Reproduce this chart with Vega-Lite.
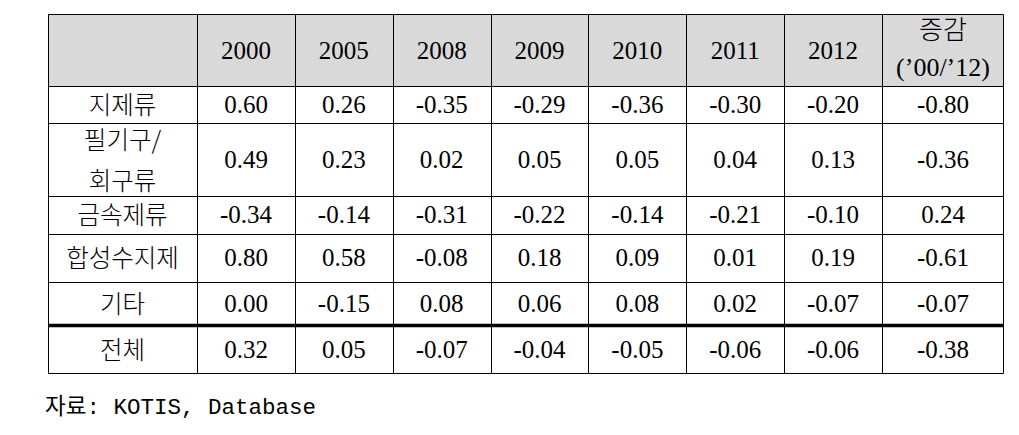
{
  "$schema": "https://vega.github.io/schema/vega-lite/v6.json",
  "width": 955,
  "height": 359,
  "autosize": "none",
  "padding": {"left": 48, "top": 14, "right": 16, "bottom": 62},
  "config": {
    "view": {"stroke": null},
    "locale": {"number": {"decimal": ".", "thousands": ",", "grouping": [3], "currency": ["", ""], "minus": "-"}}
  },
  "title": {
    "text": "자료: KOTIS, Database",
    "orient": "bottom",
    "anchor": "start",
    "frame": "group",
    "font": "Liberation Mono, Noto Sans CJK KR",
    "fontSize": 22.5,
    "fontWeight": "normal",
    "color": "#000000",
    "offset": 23,
    "dx": -3
  },
  "layer": [
    {
      "data": {"values": [{"part": "header"}]},
      "mark": {"type": "rect", "color": "#d9d9d9"},
      "encoding": {
        "x": {
          "datum": 0, "type": "quantitative",
          "scale": {"domain": [0, 1, 8, 9], "range": [0, 149, 834, 955], "nice": false, "zero": false},
          "axis": {"grid": true, "values": [0, 1, 2, 3, 4, 5, 6, 7, 8, 9], "labels": false, "ticks": false, "domain": false, "title": null, "gridColor": "#000000", "gridWidth": 1, "gridOpacity": 1, "zindex": 1}
        },
        "x2": {"datum": 9},
        "y": {
          "datum": 0, "type": "quantitative",
          "scale": {"domain": [0, 1, 2, 3, 4, 5, 6, 7], "range": [0, 72, 109, 182, 220, 268, 311, 359], "nice": false, "zero": false},
          "axis": {"grid": true, "values": [0, 1, 2, 3, 4, 5, 6, 7], "labels": false, "ticks": false, "domain": false, "title": null, "gridColor": "#000000", "gridOpacity": 1, "gridWidth": {"condition": {"test": "datum.value === 6", "value": 3.5}, "value": 1}, "zindex": 1}
        },
        "y2": {"datum": 1}
      }
    },
    {
      "data": {"values": [
        {"ri": 0, "ci": 1, "label": "2000"},
        {"ri": 0, "ci": 2, "label": "2005"},
        {"ri": 0, "ci": 3, "label": "2008"},
        {"ri": 0, "ci": 4, "label": "2009"},
        {"ri": 0, "ci": 5, "label": "2010"},
        {"ri": 0, "ci": 6, "label": "2011"},
        {"ri": 0, "ci": 7, "label": "2012"}
      ]},
      "mark": {"type": "text", "font": "Liberation Serif", "fontSize": 25, "baseline": "middle", "align": "center", "color": "#000000"},
      "encoding": {
        "x": {"field": "ci", "type": "quantitative", "scale": {"domain": [0, 1, 7, 8], "range": [74.5, 198, 785, 895], "nice": false, "zero": false}, "axis": null},
        "y": {"field": "ri", "type": "quantitative", "scale": {"domain": [0, 1, 2, 3, 4, 5, 6], "range": [37, 91, 146, 201, 244, 290, 336], "nice": false, "zero": false}, "axis": null},
        "text": {"field": "label"}
      }
    },
    {
      "data": {"values": [
        {"ri": 1, "ci": 0, "label": "지제류"},
        {"ri": 3, "ci": 0, "label": "금속제류"},
        {"ri": 4, "ci": 0, "label": "합성수지제"},
        {"ri": 5, "ci": 0, "label": "기타"},
        {"ri": 6, "ci": 0, "label": "전체"}
      ]},
      "mark": {"type": "text", "font": "Noto Sans CJK KR", "fontSize": 24.5, "fontWeight": 300, "letterSpacing": 3, "dy": 2, "baseline": "middle", "align": "center", "color": "#000000"},
      "encoding": {
        "x": {"field": "ci", "type": "quantitative", "scale": {"domain": [0, 1, 7, 8], "range": [74.5, 198, 785, 895], "nice": false, "zero": false}, "axis": null},
        "y": {"field": "ri", "type": "quantitative", "scale": {"domain": [0, 1, 2, 3, 4, 5, 6], "range": [37, 91, 146, 201, 244, 290, 336], "nice": false, "zero": false}, "axis": null},
        "text": {"field": "label"}
      }
    },
    {
      "data": {"values": [
        {"ri": 2, "ci": 0, "label": "필기구/\n회구류"}
      ]},
      "mark": {"type": "text", "font": "Noto Sans CJK KR", "fontSize": 24.5, "fontWeight": 300, "letterSpacing": 3, "lineBreak": "\n", "lineHeight": 41, "dy": -18, "baseline": "middle", "align": "center", "color": "#000000"},
      "encoding": {
        "x": {"field": "ci", "type": "quantitative", "scale": {"domain": [0, 1, 7, 8], "range": [74.5, 198, 785, 895], "nice": false, "zero": false}, "axis": null},
        "y": {"field": "ri", "type": "quantitative", "scale": {"domain": [0, 1, 2, 3, 4, 5, 6], "range": [37, 91, 146, 201, 244, 290, 336], "nice": false, "zero": false}, "axis": null},
        "text": {"field": "label"}
      }
    },
    {
      "data": {"values": [
        {"ri": 0, "ci": 8, "label": "증감\n(’00/’12)"}
      ]},
      "mark": {"type": "text", "font": "Liberation Serif, Noto Sans CJK KR", "fontSize": 26, "fontWeight": 300, "lineBreak": "\n", "lineHeight": 37, "dy": -20, "baseline": "middle", "align": "center", "color": "#000000"},
      "encoding": {
        "x": {"field": "ci", "type": "quantitative", "scale": {"domain": [0, 1, 7, 8], "range": [74.5, 198, 785, 895], "nice": false, "zero": false}, "axis": null},
        "y": {"field": "ri", "type": "quantitative", "scale": {"domain": [0, 1, 2, 3, 4, 5, 6], "range": [37, 91, 146, 201, 244, 290, 336], "nice": false, "zero": false}, "axis": null},
        "text": {"field": "label"}
      }
    },
    {
      "data": {"values": [
        {"item": "지제류", "period": "2000", "ri": 1, "ci": 1, "value": 0.60},
        {"item": "지제류", "period": "2005", "ri": 1, "ci": 2, "value": 0.26},
        {"item": "지제류", "period": "2008", "ri": 1, "ci": 3, "value": -0.35},
        {"item": "지제류", "period": "2009", "ri": 1, "ci": 4, "value": -0.29},
        {"item": "지제류", "period": "2010", "ri": 1, "ci": 5, "value": -0.36},
        {"item": "지제류", "period": "2011", "ri": 1, "ci": 6, "value": -0.30},
        {"item": "지제류", "period": "2012", "ri": 1, "ci": 7, "value": -0.20},
        {"item": "지제류", "period": "증감", "ri": 1, "ci": 8, "value": -0.80},
        {"item": "필기구/회구류", "period": "2000", "ri": 2, "ci": 1, "value": 0.49},
        {"item": "필기구/회구류", "period": "2005", "ri": 2, "ci": 2, "value": 0.23},
        {"item": "필기구/회구류", "period": "2008", "ri": 2, "ci": 3, "value": 0.02},
        {"item": "필기구/회구류", "period": "2009", "ri": 2, "ci": 4, "value": 0.05},
        {"item": "필기구/회구류", "period": "2010", "ri": 2, "ci": 5, "value": 0.05},
        {"item": "필기구/회구류", "period": "2011", "ri": 2, "ci": 6, "value": 0.04},
        {"item": "필기구/회구류", "period": "2012", "ri": 2, "ci": 7, "value": 0.13},
        {"item": "필기구/회구류", "period": "증감", "ri": 2, "ci": 8, "value": -0.36},
        {"item": "금속제류", "period": "2000", "ri": 3, "ci": 1, "value": -0.34},
        {"item": "금속제류", "period": "2005", "ri": 3, "ci": 2, "value": -0.14},
        {"item": "금속제류", "period": "2008", "ri": 3, "ci": 3, "value": -0.31},
        {"item": "금속제류", "period": "2009", "ri": 3, "ci": 4, "value": -0.22},
        {"item": "금속제류", "period": "2010", "ri": 3, "ci": 5, "value": -0.14},
        {"item": "금속제류", "period": "2011", "ri": 3, "ci": 6, "value": -0.21},
        {"item": "금속제류", "period": "2012", "ri": 3, "ci": 7, "value": -0.10},
        {"item": "금속제류", "period": "증감", "ri": 3, "ci": 8, "value": 0.24},
        {"item": "합성수지제", "period": "2000", "ri": 4, "ci": 1, "value": 0.80},
        {"item": "합성수지제", "period": "2005", "ri": 4, "ci": 2, "value": 0.58},
        {"item": "합성수지제", "period": "2008", "ri": 4, "ci": 3, "value": -0.08},
        {"item": "합성수지제", "period": "2009", "ri": 4, "ci": 4, "value": 0.18},
        {"item": "합성수지제", "period": "2010", "ri": 4, "ci": 5, "value": 0.09},
        {"item": "합성수지제", "period": "2011", "ri": 4, "ci": 6, "value": 0.01},
        {"item": "합성수지제", "period": "2012", "ri": 4, "ci": 7, "value": 0.19},
        {"item": "합성수지제", "period": "증감", "ri": 4, "ci": 8, "value": -0.61},
        {"item": "기타", "period": "2000", "ri": 5, "ci": 1, "value": 0.00},
        {"item": "기타", "period": "2005", "ri": 5, "ci": 2, "value": -0.15},
        {"item": "기타", "period": "2008", "ri": 5, "ci": 3, "value": 0.08},
        {"item": "기타", "period": "2009", "ri": 5, "ci": 4, "value": 0.06},
        {"item": "기타", "period": "2010", "ri": 5, "ci": 5, "value": 0.08},
        {"item": "기타", "period": "2011", "ri": 5, "ci": 6, "value": 0.02},
        {"item": "기타", "period": "2012", "ri": 5, "ci": 7, "value": -0.07},
        {"item": "기타", "period": "증감", "ri": 5, "ci": 8, "value": -0.07},
        {"item": "전체", "period": "2000", "ri": 6, "ci": 1, "value": 0.32},
        {"item": "전체", "period": "2005", "ri": 6, "ci": 2, "value": 0.05},
        {"item": "전체", "period": "2008", "ri": 6, "ci": 3, "value": -0.07},
        {"item": "전체", "period": "2009", "ri": 6, "ci": 4, "value": -0.04},
        {"item": "전체", "period": "2010", "ri": 6, "ci": 5, "value": -0.05},
        {"item": "전체", "period": "2011", "ri": 6, "ci": 6, "value": -0.06},
        {"item": "전체", "period": "2012", "ri": 6, "ci": 7, "value": -0.06},
        {"item": "전체", "period": "증감", "ri": 6, "ci": 8, "value": -0.38}
      ]},
      "mark": {"type": "text", "font": "Liberation Serif", "fontSize": 25, "baseline": "middle", "align": "center", "color": "#000000"},
      "encoding": {
        "x": {"field": "ci", "type": "quantitative", "scale": {"domain": [0, 1, 7, 8], "range": [74.5, 198, 785, 895], "nice": false, "zero": false}, "axis": null},
        "y": {"field": "ri", "type": "quantitative", "scale": {"domain": [0, 1, 2, 3, 4, 5, 6], "range": [37, 91, 146, 201, 244, 290, 336], "nice": false, "zero": false}, "axis": null},
        "text": {"field": "value", "type": "quantitative", "format": ".2f"}
      }
    }
  ],
  "resolve": {"scale": {"x": "independent", "y": "independent"}}
}
